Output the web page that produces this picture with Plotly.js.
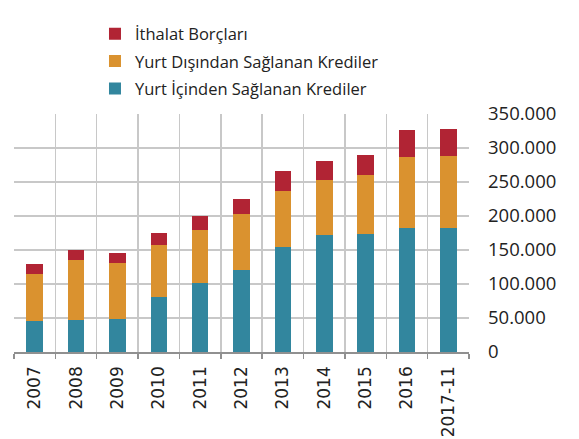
<!DOCTYPE html>
<html><head><meta charset="utf-8">
<script src="https://cdn.plot.ly/plotly-3.0.1.min.js"></script>
<style>html,body{margin:0;padding:0;background:#fff}</style>
</head><body>
<div id="chart" style="width:579px;height:439px"></div>
<script>
const categories = ["2007","2008","2009","2010","2011","2012","2013","2014","2015","2016","2017-11"];
const yurtIci = [45000,47000,49000,81000,101000,121000,155000,172000,173000,183000,183000];
const yurtDisi = [69000,89000,82000,77000,79000,82000,82500,81000,87000,104000,105000];
const ithalat = [15000,14000,15000,17500,20000,22600,28000,28000,30000,40000,39500];
const tickVals = [0,50000,100000,150000,200000,250000,300000,350000];

const traces = [
  {type:"bar", name:"Yurt İçinden Sağlanan Krediler", legendgroup:"a", legendrank:3, x:categories, y:yurtIci, marker:{color:"#32869E"}},
  {type:"bar", name:"Yurt Dışından Sağlanan Krediler", legendgroup:"b", legendrank:2, x:categories, y:yurtDisi, marker:{color:"#DA922F"}},
  {type:"bar", name:"İthalat Borçları", legendgroup:"c", legendrank:1, x:categories, y:ithalat, marker:{color:"#B12434"}}
];
const layout = {
  width:579, height:439,
  margin:{l:14, r:110, t:114, b:87},
  barmode:"stack", bargap:0.6,
  separators:",.",
  paper_bgcolor:"#fff", plot_bgcolor:"#fff",
  font:{family:"Open Sans, sans-serif", color:"#222"},
  showlegend:true,
  legend:{traceorder:"grouped", x:0.178, xanchor:"left", y:1.41, yanchor:"top",
          font:{size:16.5, color:"#222"}, itemwidth:20, tracegroupgap:3, bgcolor:"rgba(0,0,0,0)"},
  xaxis:{type:"category", tickson:"boundaries", showgrid:true, gridcolor:"#c8c8c8", gridwidth:1.5,
         ticks:"outside", ticklen:5, tickcolor:"#909090", tickwidth:1.5,
         showline:true, linecolor:"#909090", linewidth:1.5, ticklabelstandoff:6,
         tickangle:-90, tickfont:{family:"DejaVu Sans, sans-serif", size:17, color:"#222"}},
  yaxis:{side:"right", range:[0,350000], tickvals:tickVals, tickformat:",",
         showgrid:true, gridcolor:"#c8c8c8", gridwidth:1.5, zeroline:false, showline:false,
         ticks:"", ticklabelstandoff:18, tickfont:{family:"Open Sans, sans-serif", size:18.5, color:"#222"}}
};
Plotly.newPlot("chart", traces, layout, {displayModeBar:false, staticPlot:true});
</script>
</body></html>
